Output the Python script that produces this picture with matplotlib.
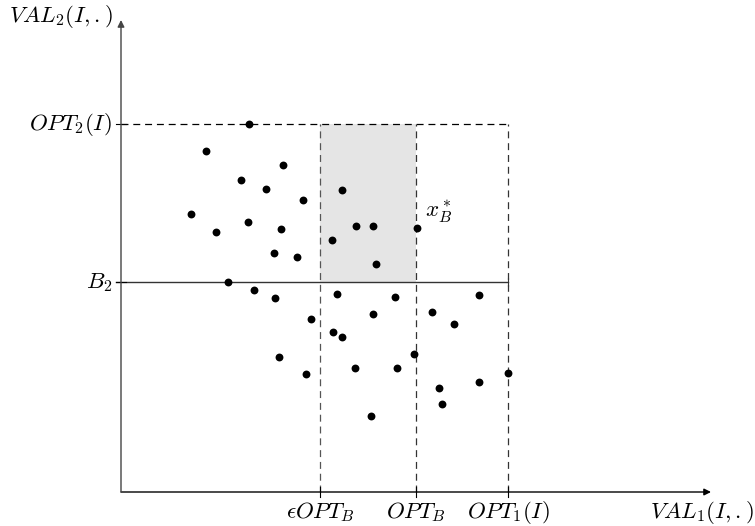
import matplotlib
matplotlib.use("Agg")
import matplotlib.pyplot as plt

plt.rcParams['mathtext.fontset'] = 'cm'
plt.rcParams['lines.scale_dashes'] = False

# key levels (diagram units, origin at axes corner)
opt2 = 368
b2 = 210
eps_optb = 199
optb = 295
opt1 = 387
x_end = 590
y_end = 472

# solutions (x = VAL_1, y = VAL_2)
pts_x = [128, 85, 162, 120, 145, 182, 221, 70, 127, 95, 160, 211, 153, 176,
         107, 133, 154, 216, 235, 252, 296, 255, 274, 358, 190, 212, 221, 158,
         185, 252, 311, 333, 293, 234, 276, 387, 358, 318, 321, 250]
pts_y = [368, 341, 327, 312, 303, 292, 302, 278, 270, 260, 263, 252, 239, 235,
         210, 202, 194, 198, 266, 266, 264, 228, 195, 197, 173, 160, 155, 135,
         118, 178, 180, 168, 138, 124, 124, 119, 110, 104, 88, 76]
xb_star = (296, 264)

x_ticks = [eps_optb, optb, opt1]
x_labels = [r'$\epsilon OPT_B$', r'$OPT_B$', r'$OPT_1(I)$']
y_ticks = [opt2, b2]
y_labels = [r'$OPT_2(I)$', r'$B_2$']

fig = plt.figure(figsize=(7.55, 5.26), dpi=100)
ax = fig.add_axes([0, 0, 1, 1])
ax.set_xlim(-121, 634)
ax.set_ylim(-34, 492)
ax.axis('off')

# shaded region
ax.fill_between([eps_optb, optb], b2, opt2, color='#e5e5e5', lw=0, zorder=0)

# axes arrows
ax.annotate('', xy=(x_end, 0), xytext=(0, 0),
            arrowprops=dict(arrowstyle='-|>', lw=1.0, color='black',
                            mutation_scale=10, shrinkA=0, shrinkB=0))
ax.annotate('', xy=(0, y_end), xytext=(0, 0),
            arrowprops=dict(arrowstyle='-|>', lw=1.0, color='#444444',
                            mutation_scale=10, shrinkA=0, shrinkB=0))

# dashed bounds
ax.plot([0, opt1], [opt2, opt2], color='black', lw=0.9, dashes=[5, 3.5])
for xv, c in zip(x_ticks, ['#555555', '#333333', '#333333']):
    ax.plot([xv, xv], [0, opt2], color=c, lw=0.9, dashes=[5, 3.5])

# B2 line
ax.plot([-5, opt1], [b2, b2], color='#333333', lw=1.0)
ax.plot([opt1, opt1], [b2 - 4, b2 + 4], color='#333333', lw=0.8)

# ticks
for xv in x_ticks:
    ax.plot([xv, xv], [-5, 5], color='black', lw=0.8)
for yv in y_ticks:
    ax.plot([-5, 5], [yv, yv], color='black', lw=0.8)

# points
ax.scatter(pts_x, pts_y, s=32, color='black', zorder=5, lw=0)

# labels
fs = 16.5
for xv, lab in zip(x_ticks, x_labels):
    ax.text(xv, -20, lab, ha='center', va='center', fontsize=fs)
for yv, lab in zip(y_ticks, y_labels):
    ax.text(-9, yv, lab, ha='right', va='center', fontsize=fs)
ax.text(633, -20, r'$VAL_1(I,{.})$', ha='right', va='center', fontsize=fs)
ax.text(-8, 475, r'$VAL_2(I,{.})$', ha='right', va='center', fontsize=fs)
ax.text(xb_star[0] + 8, xb_star[1] + 16, r'$x_B^*$', ha='left', va='center', fontsize=fs)

fig.savefig('out.png', dpi=100)
